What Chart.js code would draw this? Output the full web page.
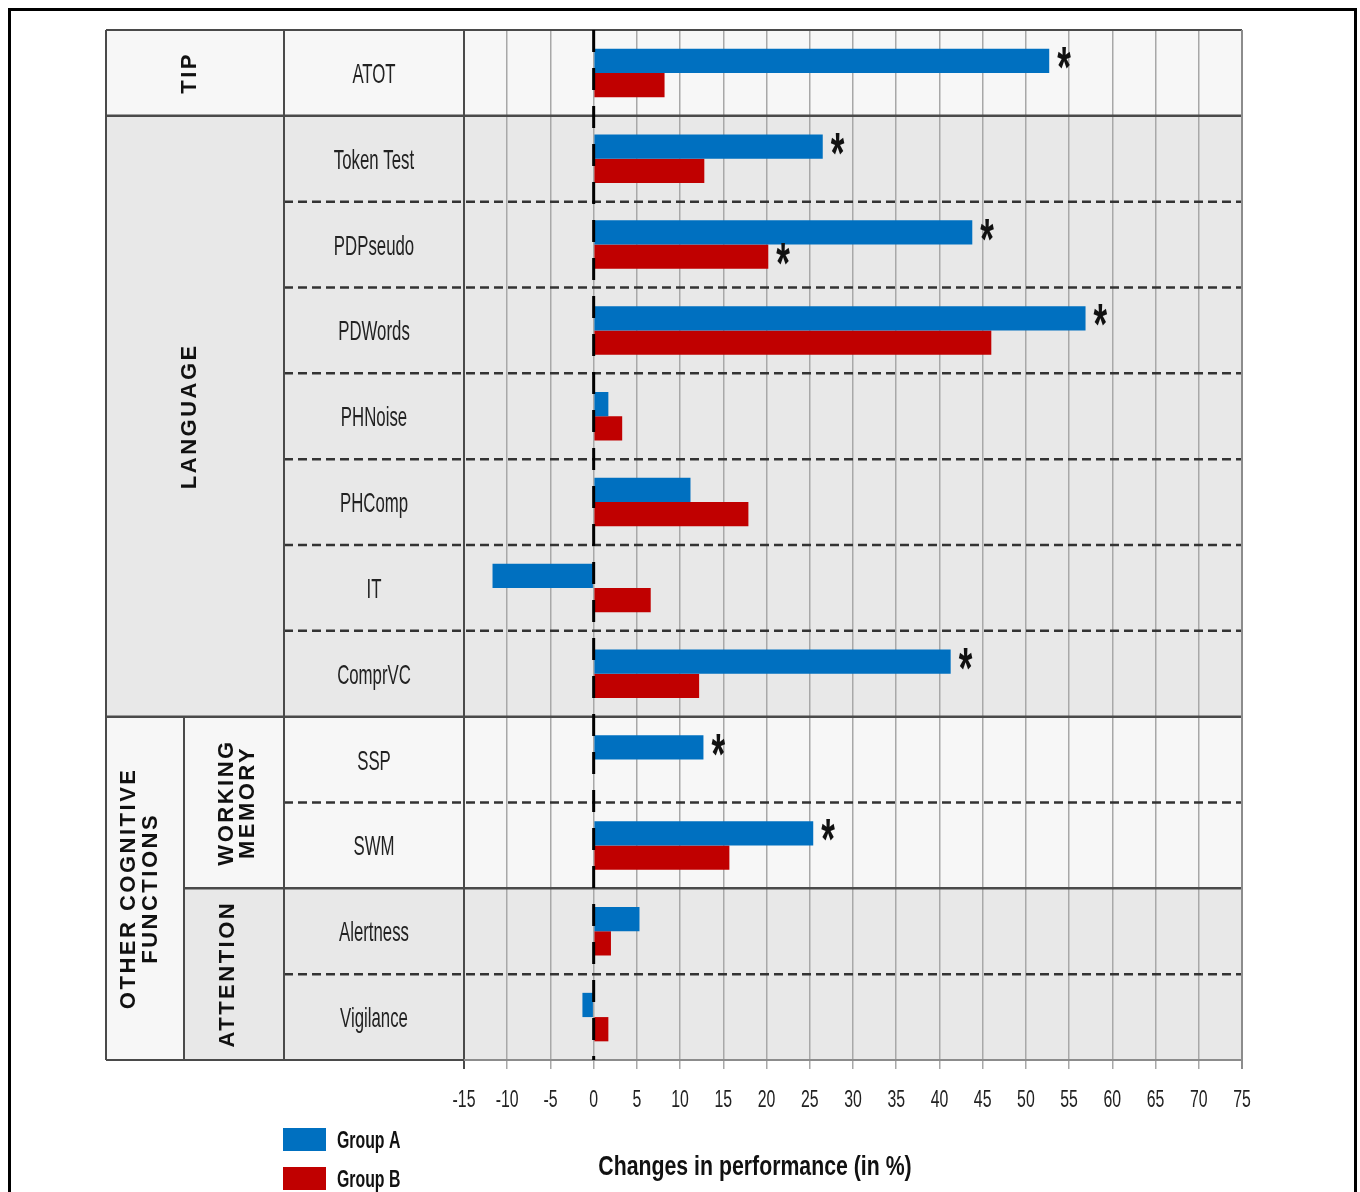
<!DOCTYPE html>
<html>
<head>
<meta charset="utf-8">
<title>Changes in performance</title>
<script src="https://cdn.jsdelivr.net/npm/chart.js@4.4.1/dist/chart.umd.min.js"></script>
<style>
  html, body { margin: 0; padding: 0; background: #ffffff; }
  canvas { display: block; }
</style>
</head>
<body>
<canvas id="chart" width="1360" height="1192"></canvas>
<script>
// Tests, one row each, top to bottom
const categories = ['ATOT', 'Token Test', 'PDPseudo', 'PDWords', 'PHNoise', 'PHComp',
                    'IT', 'ComprVC', 'SSP', 'SWM', 'Alertness', 'Vigilance'];

// Change in performance (%) per group
const groupA = [52.7, 26.5, 43.8, 56.9, 1.7, 11.2, -11.7, 41.3, 12.7, 25.4, 5.3, -1.3];
const groupB = [8.2, 12.8, 20.2, 46.0, 3.3, 17.9, 6.6, 12.2, 0, 15.7, 2.0, 1.7];

// Significant changes (marked with an asterisk)
const sigA = [1, 1, 1, 1, 0, 0, 0, 1, 1, 1, 0, 0];
const sigB = [0, 0, 1, 0, 0, 0, 0, 0, 0, 0, 0, 0];

// Domains (outer column) and sub-domains, with the rows they span
const domainLabels = [['TIP'], ['LANGUAGE'], ['OTHER COGNITIVE', 'FUNCTIONS']];
const domainSpans = [[0, 0], [1, 7], [8, 11]];
const subdomainLabels = [['WORKING', 'MEMORY'], ['ATTENTION']];
const subdomainSpans = [[8, 9], [10, 11]];

const seriesNames = ['Group A', 'Group B'];
const axisTitle = 'Changes in performance (in %)';
const xMin = -15, xMax = 75, xStep = 5;

// ---- drawing styles ----
const FONT = '"Liberation Sans", Arial, sans-serif';
const BLUE = '#0070C0';
const RED = '#C00000';
const LIGHT = '#f7f7f7';
const GRAY = '#e8e8e8';
const LINE = '#4a4a4a';

// table columns (left edge of each column)
const COL_DOMAIN = 106, COL_SUB = 184, COL_TEST = 284;

function drawText(ctx, s, x, y, o) {
  ctx.save();
  ctx.translate(x, y);
  if (o.rot) ctx.rotate(o.rot);
  ctx.scale(o.sx || 1, o.sy || 1);
  ctx.font = (o.bold ? 'bold ' : '') + o.size + 'px ' + FONT;
  ctx.letterSpacing = (o.ls || 0) + 'px';
  ctx.fillStyle = o.color || '#222';
  ctx.textAlign = o.align || 'center';
  ctx.textBaseline = 'alphabetic';
  // vertically centre on the capitals
  ctx.fillText(s, 0, 0.358 * o.size);
  ctx.restore();
}

function rowBounds(yScale, i) {
  const n = categories.length;
  const h = (yScale.bottom - yScale.top) / n;
  const c = yScale.getPixelForValue(i);
  return [c - h / 2, c + h / 2];
}

const tablePlugin = {
  id: 'table',
  beforeDraw(chart) {
    const ctx = chart.ctx;
    const ys = chart.scales.y;
    const area = chart.chartArea;
    ctx.save();
    ctx.fillStyle = '#ffffff';
    ctx.fillRect(0, 0, chart.width, chart.height);

    // shaded row blocks: TIP, LANGUAGE, WORKING MEMORY, ATTENTION
    const blocks = [domainSpans[0], domainSpans[1], subdomainSpans[0], subdomainSpans[1]];
    blocks.forEach((b, k) => {
      const top = rowBounds(ys, b[0])[0];
      const bot = rowBounds(ys, b[1])[1];
      const x0 = k >= 2 ? COL_SUB : COL_DOMAIN;
      ctx.fillStyle = k % 2 === 0 ? LIGHT : GRAY;
      ctx.fillRect(x0, top, area.right - x0, bot - top);
    });
    // outer domain cell of the last block
    const o = domainSpans[2];
    const oTop = rowBounds(ys, o[0])[0], oBot = rowBounds(ys, o[1])[1];
    ctx.fillStyle = LIGHT;
    ctx.fillRect(COL_DOMAIN, oTop, COL_SUB - COL_DOMAIN, oBot - oTop);
    ctx.restore();
  },
  afterDatasetsDraw(chart) {
    const ctx = chart.ctx;
    const ys = chart.scales.y;
    const xs = chart.scales.x;
    const area = chart.chartArea;
    const n = categories.length;
    ctx.save();

    // dashed separators between tests within a block
    const blockEnds = [domainSpans[0][1], domainSpans[1][1], subdomainSpans[0][1], subdomainSpans[1][1]];
    ctx.strokeStyle = '#333';
    ctx.lineWidth = 2.5;
    ctx.setLineDash([9, 5]);
    for (let i = 0; i < n - 1; i++) {
      if (blockEnds.includes(i)) continue;
      const y = rowBounds(ys, i)[1];
      ctx.beginPath();
      ctx.moveTo(COL_TEST, y);
      ctx.lineTo(area.right, y);
      ctx.stroke();
    }
    ctx.setLineDash([]);

    // solid block separators
    ctx.strokeStyle = LINE;
    ctx.lineWidth = 2.5;
    [[domainSpans[0][1], COL_DOMAIN], [domainSpans[1][1], COL_DOMAIN], [subdomainSpans[0][1], COL_SUB]]
      .forEach(([i, x0]) => {
        const y = rowBounds(ys, i)[1];
        ctx.beginPath();
        ctx.moveTo(x0, y);
        ctx.lineTo(area.right, y);
        ctx.stroke();
      });

    // table frame and column lines
    ctx.lineWidth = 2;
    ctx.strokeStyle = LINE;
    ctx.beginPath();
    ctx.moveTo(COL_DOMAIN, area.top); ctx.lineTo(area.right, area.top);
    ctx.moveTo(COL_DOMAIN, area.top); ctx.lineTo(COL_DOMAIN, area.bottom);
    ctx.moveTo(COL_TEST, area.top); ctx.lineTo(COL_TEST, area.bottom);
    ctx.moveTo(area.left, area.top); ctx.lineTo(area.left, area.bottom + 9);
    ctx.moveTo(COL_SUB, rowBounds(ys, domainSpans[2][0])[0]); ctx.lineTo(COL_SUB, area.bottom);
    ctx.moveTo(COL_DOMAIN, area.bottom); ctx.lineTo(area.left, area.bottom);
    ctx.stroke();
    ctx.strokeStyle = '#8c8c8c';
    ctx.beginPath();
    ctx.moveTo(area.left, area.bottom); ctx.lineTo(area.right, area.bottom);
    ctx.moveTo(area.right, area.top); ctx.lineTo(area.right, area.bottom + 9);
    ctx.stroke();

    // zero line
    const x0 = xs.getPixelForValue(0);
    ctx.strokeStyle = '#000';
    ctx.lineWidth = 3;
    ctx.setLineDash([22, 16]);
    ctx.beginPath();
    ctx.moveTo(x0, area.top);
    ctx.lineTo(x0, area.bottom);
    ctx.stroke();
    ctx.setLineDash([]);

    // significance asterisks
    const drawStar = (x, y) => {
      ctx.save();
      ctx.translate(x, y);
      ctx.scale(1.0, 1.65);
      ctx.font = 'bold 35px ' + FONT;
      ctx.fillStyle = '#111';
      ctx.textAlign = 'left';
      ctx.textBaseline = 'alphabetic';
      const m = ctx.measureText('*');
      const w = m.actualBoundingBoxLeft + m.actualBoundingBoxRight;
      const h = m.actualBoundingBoxAscent + m.actualBoundingBoxDescent;
      ctx.fillText('*', -w / 2 + m.actualBoundingBoxLeft, h / 2 - m.actualBoundingBoxDescent);
      ctx.restore();
    };
    [[0, sigA], [1, sigB]].forEach(([d, sig]) => {
      const meta = chart.getDatasetMeta(d);
      sig.forEach((s, i) => {
        if (!s) return;
        const bar = meta.data[i];
        drawStar(bar.x + 15, bar.y - 2);
      });
    });

    ctx.restore();
  },
  afterDraw(chart) {
    const ctx = chart.ctx;
    const ys = chart.scales.y;
    const xs = chart.scales.x;
    const area = chart.chartArea;

    // test names
    categories.forEach((c, i) => {
      drawText(ctx, c, (COL_TEST + area.left) / 2, ys.getPixelForValue(i),
               { size: 28, sx: 0.6, color: '#222' });
    });

    // rotated domain labels
    const vert = (lines, xCenter, y0, y1, gap) => {
      const yc = (y0 + y1) / 2;
      lines.forEach((s, k) => {
        const x = xCenter + (k - (lines.length - 1) / 2) * gap;
        drawText(ctx, s, x, yc, { size: 22, bold: true, rot: -Math.PI / 2, ls: 2.5, color: '#111' });
      });
    };
    domainLabels.forEach((lines, k) => {
      const [a, b] = domainSpans[k];
      const top = rowBounds(ys, a)[0], bot = rowBounds(ys, b)[1];
      const right = k === 2 ? COL_SUB : COL_TEST;
      vert(lines, (COL_DOMAIN + right) / 2 - 7, top, bot, 22);
    });
    subdomainLabels.forEach((lines, k) => {
      const [a, b] = subdomainSpans[k];
      const top = rowBounds(ys, a)[0], bot = rowBounds(ys, b)[1];
      const xc = lines.length > 1 ? 236 : 226;
      vert(lines, xc, top, bot, 21);
    });

    // x tick labels
    xs.ticks.forEach(t => {
      drawText(ctx, String(t.value), xs.getPixelForValue(t.value), 1098.5,
               { size: 24, sx: 0.66, color: '#222' });
    });

    // axis title
    drawText(ctx, axisTitle, 755, 1165, { size: 28, bold: true, sx: 0.76, color: '#111' });

    // legend
    chart.data.datasets.forEach((ds, k) => {
      const yc = 1139.5 + k * 39;
      ctx.fillStyle = ds.backgroundColor;
      ctx.fillRect(283, yc - 11.5, 43, 23);
      drawText(ctx, ds.label, 337, yc, { size: 24, bold: true, sx: 0.66, align: 'left', color: '#111' });
    });

    // page frame
    ctx.save();
    ctx.strokeStyle = '#000';
    ctx.lineWidth = 3;
    ctx.strokeRect(9.5, 9.5, 1346, 1200);
    ctx.restore();
  }
};

new Chart(document.getElementById('chart'), {
  type: 'bar',
  data: {
    labels: categories,
    datasets: [
      { label: seriesNames[0], data: groupA, backgroundColor: BLUE },
      { label: seriesNames[1], data: groupB, backgroundColor: RED }
    ]
  },
  options: {
    indexAxis: 'y',
    responsive: false,
    animation: false,
    devicePixelRatio: 1,
    layout: { padding: { left: 464, right: 118, top: 30, bottom: 0 } },
    datasets: { bar: { categoryPercentage: 0.565, barPercentage: 1.0, borderWidth: 0 } },
    plugins: { legend: { display: false }, tooltip: { enabled: false } },
    scales: {
      x: {
        type: 'linear',
        min: xMin,
        max: xMax,
        ticks: { stepSize: xStep, display: false },
        grid: { color: '#a8a8a8', lineWidth: 1.5, drawTicks: true, tickLength: 9, tickColor: '#a8a8a8' },
        border: { display: false },
        afterFit(scale) { scale.height = 132; }
      },
      y: {
        type: 'category',
        display: false
      }
    }
  },
  plugins: [tablePlugin]
});
</script>
</body>
</html>
